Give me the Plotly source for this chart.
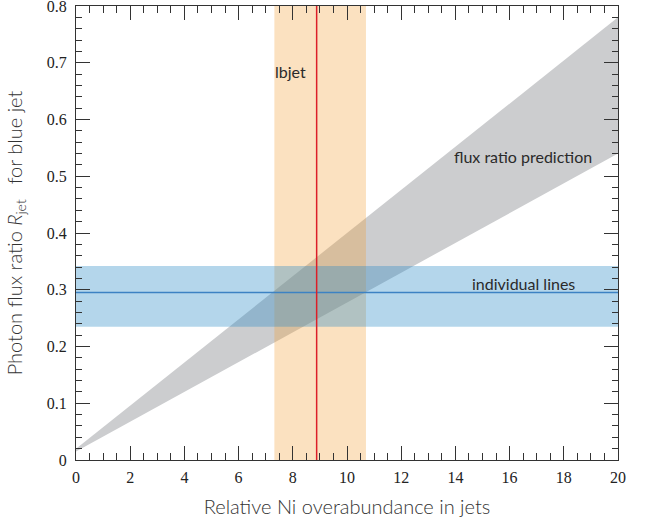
import plotly.graph_objects as go

# ---- data ----
x_ends = [0, 20]                    # x-range of the prediction band
pred_upper = [0.02, 0.78]           # upper edge of flux ratio prediction
pred_lower = [0.015, 0.54]          # lower edge of flux ratio prediction
lbjet_band = [7.32, 10.70]          # lbjet range (x)
lbjet_value = 8.88                  # lbjet central value
lines_band = [0.235, 0.342]         # individual lines range (y)
lines_value = 0.295                 # individual lines central value

x_min, x_max = 0, 20
y_min, y_max = 0, 0.8

fig = go.Figure()

# flux ratio prediction band (gray wedge)
fig.add_trace(go.Scatter(
    x=x_ends + x_ends[::-1], y=pred_upper + pred_lower[::-1],
    fill="toself", fillcolor="rgb(204,205,207)", mode="lines",
    line=dict(width=0), hoverinfo="skip", showlegend=False))

# lbjet band (orange, vertical)
fig.add_trace(go.Scatter(
    x=[lbjet_band[0], lbjet_band[1], lbjet_band[1], lbjet_band[0]],
    y=[y_min, y_min, y_max, y_max],
    fill="toself", fillcolor="rgba(242,155,45,0.30)", mode="lines",
    line=dict(width=0), hoverinfo="skip", showlegend=False))

# individual lines band (blue, horizontal)
fig.add_trace(go.Scatter(
    x=[x_min, x_max, x_max, x_min],
    y=[lines_band[0], lines_band[0], lines_band[1], lines_band[1]],
    fill="toself", fillcolor="rgba(41,138,198,0.35)", mode="lines",
    line=dict(width=0), hoverinfo="skip", showlegend=False))

# central values
fig.add_trace(go.Scatter(
    x=[x_min, x_max], y=[lines_value, lines_value], mode="lines",
    line=dict(color="rgb(60,130,195)", width=1.5), hoverinfo="skip", showlegend=False))
fig.add_trace(go.Scatter(
    x=[lbjet_value, lbjet_value], y=[y_min, y_max], mode="lines",
    line=dict(color="rgb(220,30,40)", width=1.5), hoverinfo="skip", showlegend=False))

label_font = dict(family="Lato, 'Open Sans', sans-serif", size=16, color="#2a2a2a")
fig.add_annotation(x=7.9, y=0.685, text="lbjet", showarrow=False, font=label_font)
fig.add_annotation(x=16.5, y=0.534, text="flux ratio prediction", showarrow=False, font=label_font)
fig.add_annotation(x=16.5, y=0.311, text="individual lines", showarrow=False, font=label_font)

axis_common = dict(
    showgrid=False, zeroline=False, showline=True, linecolor="#333333", linewidth=1.3,
    mirror="allticks", ticks="inside", ticklen=14, tickwidth=1.2, tickcolor="#333333",
    ticklabeloverflow="allow", automargin=False,
    tickfont=dict(family="'Liberation Serif', 'DejaVu Serif', serif", size=16, color="#222222"),
)
title_font = dict(family="Lato, 'Open Sans', sans-serif", size=20, color="#333333", weight=300)

fig.update_xaxes(
    range=[x_min, x_max], dtick=2, tick0=0, ticklabelstandoff=3,
    minor=dict(dtick=0.5, ticks="inside", ticklen=7, tickwidth=1.2, tickcolor="#333333"),
    title=dict(text="Relative Ni overabundance in jets", standoff=14, font=title_font),
    **axis_common)
fig.update_yaxes(
    range=[y_min, y_max], dtick=0.1, tick0=0, ticklabelstandoff=5,
    minor=dict(dtick=0.02, ticks="inside", ticklen=6, tickwidth=1.2, tickcolor="#333333"),
    title=dict(text="Photon flux ratio <i>R</i><sub>jet</sub>\u2003for blue jet", standoff=18,
               font=dict(title_font, size=20)),
    **axis_common)

fig.update_layout(
    width=649, height=522,
    margin=dict(l=76, r=31, t=6, b=62),
    plot_bgcolor="white", paper_bgcolor="white",
)

fig.write_html("out.html")
